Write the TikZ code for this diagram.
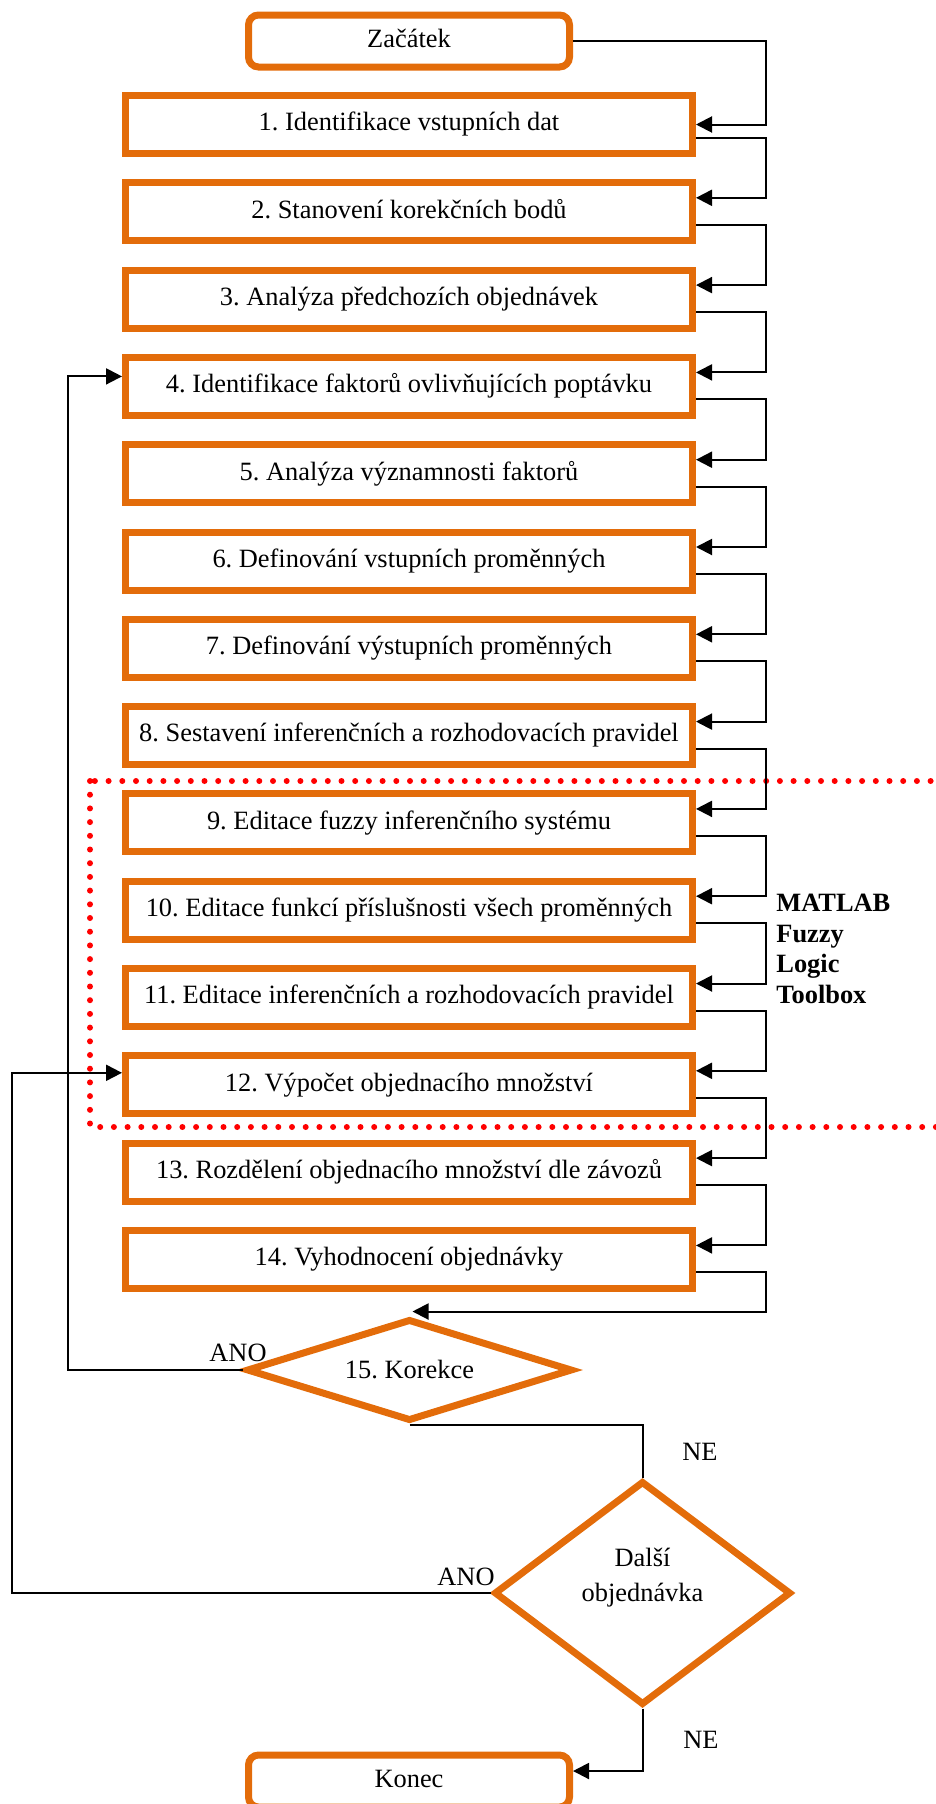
\documentclass[tikz,border=0pt]{standalone}
\usepackage{fontspec}
\setmainfont{Liberation Serif}
\usetikzlibrary{calc,positioning,shapes.geometric,arrows.meta}
\definecolor{boxorange}{RGB}{227,108,10}
\frenchspacing

\begin{document}
\begin{tikzpicture}[x=0.5pt, y=-0.5pt,
    every node/.style={font=\fontsize{13.2pt}{16pt}\selectfont},
    stepbox/.style={draw=boxorange, line width=3.5pt, minimum width=283.5pt, minimum height=29pt,
        inner sep=0pt, text height=9.2pt, text depth=2.9pt},
    terminal/.style={draw=boxorange, line width=3.5pt, rounded corners=5pt, minimum width=160.5pt,
        minimum height=26pt, inner sep=0pt, text height=9.2pt, text depth=2.9pt},
    decision/.style={draw=boxorange, line width=3.5pt, diamond, inner sep=0pt},
    flow/.style={draw=black, line width=1pt, -{Triangle[length=8pt, width=8pt]}},
    link/.style={draw=black, line width=1pt},
    tag/.style={inner sep=0pt}]
                \useasboundingbox (0,0) rectangle (936,1804);
                \clip (0,0) rectangle (936,1804);
                % MATLAB part
                \draw[red, line width=3pt, line cap=round, dash pattern=on 0pt off 6.85pt] (90,781) rectangle (1000,1127);
                \node[terminal] (start) at (409,41) {Začátek};
                \node[stepbox] (b1) at (409,124.5) {1. Identifikace vstupních dat};
                \node[stepbox] (b2) at (409,211.8) {2. Stanovení korekčních bodů};
                \node[stepbox] (b3) at (409,299.1) {3. Analýza předchozích objednávek};
                \node[stepbox] (b4) at (409,386.4) {4. Identifikace faktorů ovlivňujících poptávku};
                \node[stepbox] (b5) at (409,473.7) {5. Analýza významnosti faktorů};
                \node[stepbox] (b6) at (409,561.0) {6. Definování vstupních proměnných};
                \node[stepbox] (b7) at (409,648.3) {7. Definování výstupních proměnných};
                \node[stepbox] (b8) at (409,735.6) {8. Sestavení inferenčních a rozhodovacích pravidel};
                \node[stepbox] (b9) at (409,822.9) {9. Editace fuzzy inferenčního systému};
                \node[stepbox] (b10) at (409,910.2) {10. Editace funkcí příslušnosti všech proměnných};
                \node[stepbox] (b11) at (409,997.5) {11. Editace inferenčních a rozhodovacích pravidel};
                \node[stepbox] (b12) at (409,1084.8) {12. Výpočet objednacího množství};
                \node[stepbox] (b13) at (409,1172.1) {13. Rozdělení objednacího množství dle závozů};
                \node[stepbox] (b14) at (409,1259.4) {14. Vyhodnocení objednávky};
                \node[decision, shape aspect=3.3, minimum width=163pt, minimum height=51pt] (kor) at (409.5,1370) {15. Korekce};
                \node[decision, shape aspect=1.32, minimum width=148.5pt, minimum height=112pt] (dalsi) at (642.5,1593) {};
                \node[align=center, font=\fontsize{13.2pt}{17.5pt}\selectfont] (dalsitxt) at (642.5,1578) {Další\\objednávka};
                \node[terminal] (konec) at (409,1781) {Konec};
                \node[tag] (ano1) at (238,1353) {ANO};
                \node[tag] (ano2) at (466,1577) {ANO};
                \node[tag] (ne1) at (700,1452) {NE};
                \node[tag] (ne2) at (701,1740) {NE};
                \node[tag, align=left, anchor=west, font=\bfseries\fontsize{13.2pt}{15.3pt}\selectfont] (matlab) at (776,949) {MATLAB\\Fuzzy\\Logic\\Toolbox};
                % right side chain
                \draw[flow] (start.east) -- ++(193,0) |- (b1.east);
                \draw[flow] ($(b1.east)+(0,13)$) -- ++(70,0) |- ($(b2.east)+(0,-14)$);
                \draw[flow] ($(b2.east)+(0,13)$) -- ++(70,0) |- ($(b3.east)+(0,-14)$);
                \draw[flow] ($(b3.east)+(0,13)$) -- ++(70,0) |- ($(b4.east)+(0,-14)$);
                \draw[flow] ($(b4.east)+(0,13)$) -- ++(70,0) |- ($(b5.east)+(0,-14)$);
                \draw[flow] ($(b5.east)+(0,13)$) -- ++(70,0) |- ($(b6.east)+(0,-14)$);
                \draw[flow] ($(b6.east)+(0,13)$) -- ++(70,0) |- ($(b7.east)+(0,-14)$);
                \draw[flow] ($(b7.east)+(0,13)$) -- ++(70,0) |- ($(b8.east)+(0,-14)$);
                \draw[flow] ($(b8.east)+(0,13)$) -- ++(70,0) |- ($(b9.east)+(0,-14)$);
                \draw[flow] ($(b9.east)+(0,13)$) -- ++(70,0) |- ($(b10.east)+(0,-14)$);
                \draw[flow] ($(b10.east)+(0,13)$) -- ++(70,0) |- ($(b11.east)+(0,-14)$);
                \draw[flow] ($(b11.east)+(0,13)$) -- ++(70,0) |- ($(b12.east)+(0,-14)$);
                \draw[flow] ($(b12.east)+(0,13)$) -- ++(70,0) |- ($(b13.east)+(0,-14)$);
                \draw[flow] ($(b13.east)+(0,13)$) -- ++(70,0) |- ($(b14.east)+(0,-14)$);
                \draw[flow] ($(b14.east)+(0,13)$) -- ++(70,0) |- ($(kor.north)+(3,-4)$);
                % decisions
                \draw[flow] (kor.west) -| ($(b4.west)+(-54,-10)$) -- ($(b4.west)+(0,-10)$);
                \draw[flow] (dalsi.west) -| ($(b12.west)+(-110,-12)$) -- ($(b12.west)+(0,-12)$);
                \draw[link] (kor.south) -| (dalsi.north);
                \draw[flow] (dalsi.south) |- ($(konec.east)+(0,-10)$);
            \end{tikzpicture}
\end{document}
